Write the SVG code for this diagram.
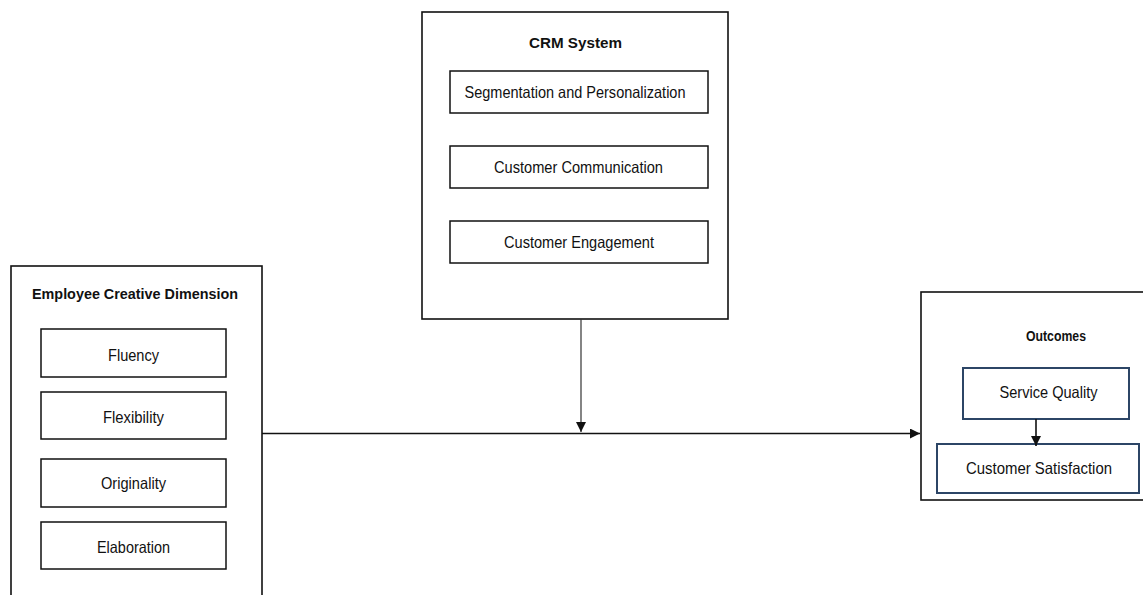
<svg xmlns="http://www.w3.org/2000/svg" width="1143" height="595" viewBox="0 0 1143 595">
  <style>
    .frame { fill: #fff; stroke: #111; stroke-width: 1.6; }
    .item { fill: #fff; stroke: #111; stroke-width: 1.5; }
    .navy { fill: #fff; stroke: #2c4566; stroke-width: 2; }
    .title { font-family: "Liberation Sans", Arial, sans-serif; font-weight: bold; font-size: 15px; fill: #111; text-anchor: middle; }
    .label { font-family: "Liberation Sans", Arial, sans-serif; font-size: 16.5px; fill: #111; text-anchor: middle; }
    .link { fill: none; stroke: #111; stroke-width: 1.6; }
    .thin { fill: none; stroke: #333; stroke-width: 1.2; }
  </style>
  <defs>
    <marker id="head" viewBox="0 0 10 10" refX="10" refY="5" markerWidth="10" markerHeight="10" markerUnits="userSpaceOnUse" orient="auto">
      <path d="M0,0 L10,5 L0,10 Z" fill="#111"/>
    </marker>
  </defs>
  <rect width="1143" height="595" fill="#fff"/>

  <!-- Employee creative dimension -->
  <g id="employee">
    <rect class="frame" x="11" y="266" width="251" height="340"/>
    <text class="title" x="135" y="298.5" textLength="206" lengthAdjust="spacingAndGlyphs">Employee Creative Dimension</text>
    <g id="fluency">
      <rect class="item" x="41" y="329" width="185" height="48"/>
      <text class="label" x="133.5" y="361" textLength="51" lengthAdjust="spacingAndGlyphs">Fluency</text>
    </g>
    <g id="flexibility">
      <rect class="item" x="41" y="392" width="185" height="47"/>
      <text class="label" x="133.5" y="422.5" textLength="61" lengthAdjust="spacingAndGlyphs">Flexibility</text>
    </g>
    <g id="originality">
      <rect class="item" x="41" y="459" width="185" height="48"/>
      <text class="label" x="133.5" y="489" textLength="65" lengthAdjust="spacingAndGlyphs">Originality</text>
    </g>
    <g id="elaboration">
      <rect class="item" x="41" y="522" width="185" height="47"/>
      <text class="label" x="133.5" y="552.5" textLength="73" lengthAdjust="spacingAndGlyphs">Elaboration</text>
    </g>
  </g>

  <!-- CRM system -->
  <g id="crm">
    <rect class="frame" x="422" y="12" width="306" height="307"/>
    <text class="title" x="575.5" y="47.5" textLength="93" lengthAdjust="spacingAndGlyphs">CRM  System</text>
    <g id="segmentation">
      <rect class="item" x="450" y="71" width="258" height="42"/>
      <text class="label" x="575" y="98" textLength="221" lengthAdjust="spacingAndGlyphs">Segmentation and Personalization</text>
    </g>
    <g id="communication">
      <rect class="item" x="450" y="146" width="258" height="42"/>
      <text class="label" x="578.5" y="173" textLength="169" lengthAdjust="spacingAndGlyphs">Customer Communication</text>
    </g>
    <g id="engagement">
      <rect class="item" x="450" y="221" width="258" height="42"/>
      <text class="label" x="579" y="248" textLength="150" lengthAdjust="spacingAndGlyphs">Customer Engagement</text>
    </g>
  </g>

  <!-- Outcomes -->
  <g id="outcomes">
    <rect class="frame" x="921" y="292" width="240" height="208"/>
    <text class="title" x="1056" y="340.5" textLength="60" lengthAdjust="spacingAndGlyphs">Outcomes</text>
    <g id="service-quality">
      <rect class="navy" x="963" y="368" width="166" height="51"/>
      <text class="label" x="1048.5" y="398" textLength="98" lengthAdjust="spacingAndGlyphs">Service Quality</text>
    </g>
    <g id="satisfaction">
      <rect class="navy" x="937" y="444" width="202" height="49"/>
      <text class="label" x="1039" y="474" textLength="146" lengthAdjust="spacingAndGlyphs">Customer Satisfaction</text>
    </g>
  </g>

  <!-- Connectors -->
  <g id="connectors">
    <path class="link" d="M262,433.5 H920" marker-end="url(#head)"/>
    <path class="thin" d="M581,319 V432" marker-end="url(#head)"/>
    <path class="link" d="M1036,419 V446" marker-end="url(#head)"/>
  </g>
</svg>
